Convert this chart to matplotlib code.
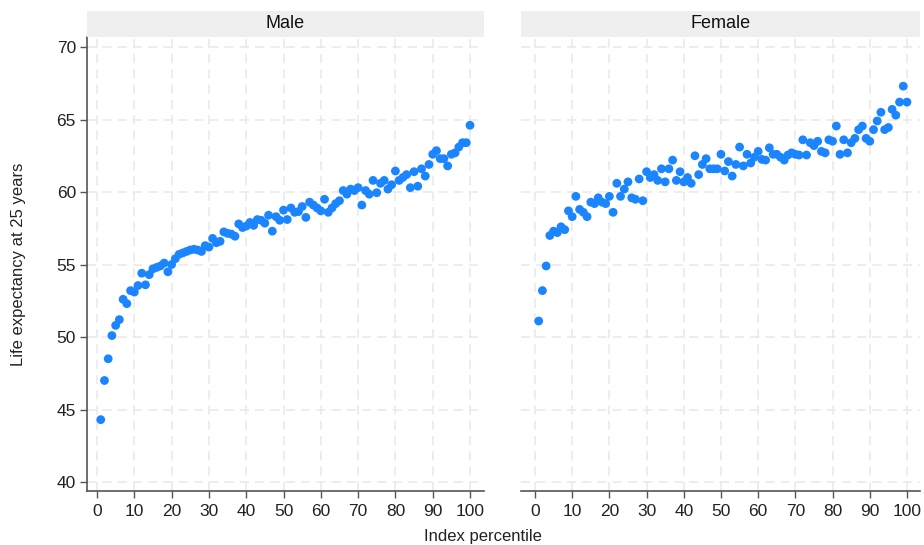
import numpy as np
import matplotlib.pyplot as plt
from matplotlib.patches import Rectangle

plt.rcParams['font.family'] = ['Liberation Sans', 'DejaVu Sans']

# percentile index 1..100
percentile = list(range(1, 101))

male = [44.3, 47.0, 48.5, 50.1, 50.8, 51.2, 52.6, 52.3, 53.2, 53.1,
        53.55, 54.4, 53.6, 54.3, 54.7, 54.8, 54.9, 55.1, 54.5, 55.0,
        55.4, 55.7, 55.8, 55.9, 56.0, 56.05, 56.0, 55.9, 56.3, 56.2,
        56.8, 56.5, 56.6, 57.25, 57.15, 57.1, 56.95, 57.8, 57.55, 57.65,
        57.9, 57.7, 58.1, 58.05, 57.85, 58.4, 57.3, 58.3, 58.05, 58.75,
        58.1, 58.9, 58.6, 58.65, 59.0, 58.25, 59.3, 59.1, 58.9, 58.7,
        59.5, 58.6, 58.9, 59.2, 59.4, 60.1, 59.85, 60.2, 60.1, 60.3,
        59.1, 60.1, 59.85, 60.8, 59.95, 60.6, 60.8, 60.2, 60.5, 61.45,
        60.8, 61.0, 61.2, 60.3, 61.4, 60.4, 61.6, 61.1, 61.9, 62.6,
        62.85, 62.3, 62.3, 61.8, 62.6, 62.7, 63.1, 63.4, 63.4, 64.6]

female = [51.1, 53.2, 54.9, 57.0, 57.3, 57.2, 57.6, 57.4, 58.7, 58.3,
          59.7, 58.8, 58.6, 58.3, 59.3, 59.2, 59.6, 59.3, 59.2, 59.7,
          58.6, 60.6, 59.7, 60.2, 60.7, 59.6, 59.5, 60.9, 59.4, 61.4,
          61.0, 61.2, 60.8, 61.6, 60.7, 61.6, 62.2, 60.8, 61.4, 60.7,
          61.0, 60.6, 62.5, 61.2, 61.9, 62.3, 61.6, 61.6, 61.6, 62.6,
          61.45, 62.1, 61.1, 61.9, 63.1, 61.8, 62.6, 62.0, 62.4, 62.8,
          62.25, 62.2, 63.05, 62.6, 62.6, 62.4, 62.2, 62.55, 62.7, 62.6,
          62.55, 63.6, 62.55, 63.4, 63.2, 63.5, 62.8, 62.7, 63.6, 63.5,
          64.55, 62.6, 63.6, 62.7, 63.4, 63.7, 64.3, 64.55, 63.7, 63.5,
          64.3, 64.9, 65.5, 64.3, 64.45, 65.7, 65.3, 66.2, 67.3, 66.2]

panels = ['Male', 'Female']
xticks = list(range(0, 101, 10))
yticks = list(range(40, 71, 5))

W, H = 924, 545
fig = plt.figure(figsize=(W / 100, H / 100), dpi=100)

dot = '#1a85ff'
grid_c = '#e8e8e8'
axis_c = '#555555'

# pixel boxes: left, right of each panel
boxes = [(87, 484), (521, 920)]
top_px, bot_px, strip_top = 37, 491, 11

for i, (name, vals) in enumerate(zip(panels, [male, female])):
    l, r = boxes[i]
    ax = fig.add_axes([l / W, (H - bot_px) / H, (r - l) / W, (bot_px - top_px) / H])
    ax.scatter(percentile, vals, s=40, color=dot, edgecolors='none', zorder=3)
    ax.set_ylim(39.38, 70.69)
    if i == 0:
        ax.set_xlim(-2.68, 103.75)
    else:
        ax.set_xlim(-3.76, 103.5)
    ax.set_xticks(xticks)
    ax.set_yticks(yticks)
    ax.grid(True, color=grid_c, linestyle=(0, (6, 4)), linewidth=1.1, zorder=0)
    for s in ['top', 'right']:
        ax.spines[s].set_visible(False)
    ax.spines['bottom'].set_color(axis_c)
    ax.spines['bottom'].set_linewidth(1.2)
    ax.tick_params(axis='x', colors=axis_c, labelcolor='#222222', labelsize=12.5,
                   length=5, width=1, pad=4)
    if i == 0:
        ax.spines['left'].set_color(axis_c)
        ax.spines['left'].set_linewidth(1.2)
        ax.tick_params(axis='y', colors=axis_c, labelcolor='#222222', labelsize=12.5,
                       length=5, width=1, pad=3)
    else:
        ax.spines['left'].set_visible(False)
        ax.tick_params(axis='y', length=0, labelleft=False)

    # facet strip
    fig.patches.append(Rectangle((l / W, (H - top_px) / H), (r - l) / W,
                                 (top_px - strip_top) / H, transform=fig.transFigure,
                                 facecolor='#efefef', edgecolor='none'))
    fig.text((l + r) / 2 / W, (H - (top_px + strip_top) / 2) / H, name,
             ha='center', va='center', fontsize=13, color='#111111')

fig.text(19 / W, (H - 264) / H, 'Life expectancy at 25 years', rotation=90,
         ha='center', va='center', fontsize=12, color='#222222')
fig.text(483 / W, (H - 537) / H, 'Index percentile', ha='center', va='center',
         fontsize=12, color='#222222')

fig.savefig('out.png', dpi=100)
